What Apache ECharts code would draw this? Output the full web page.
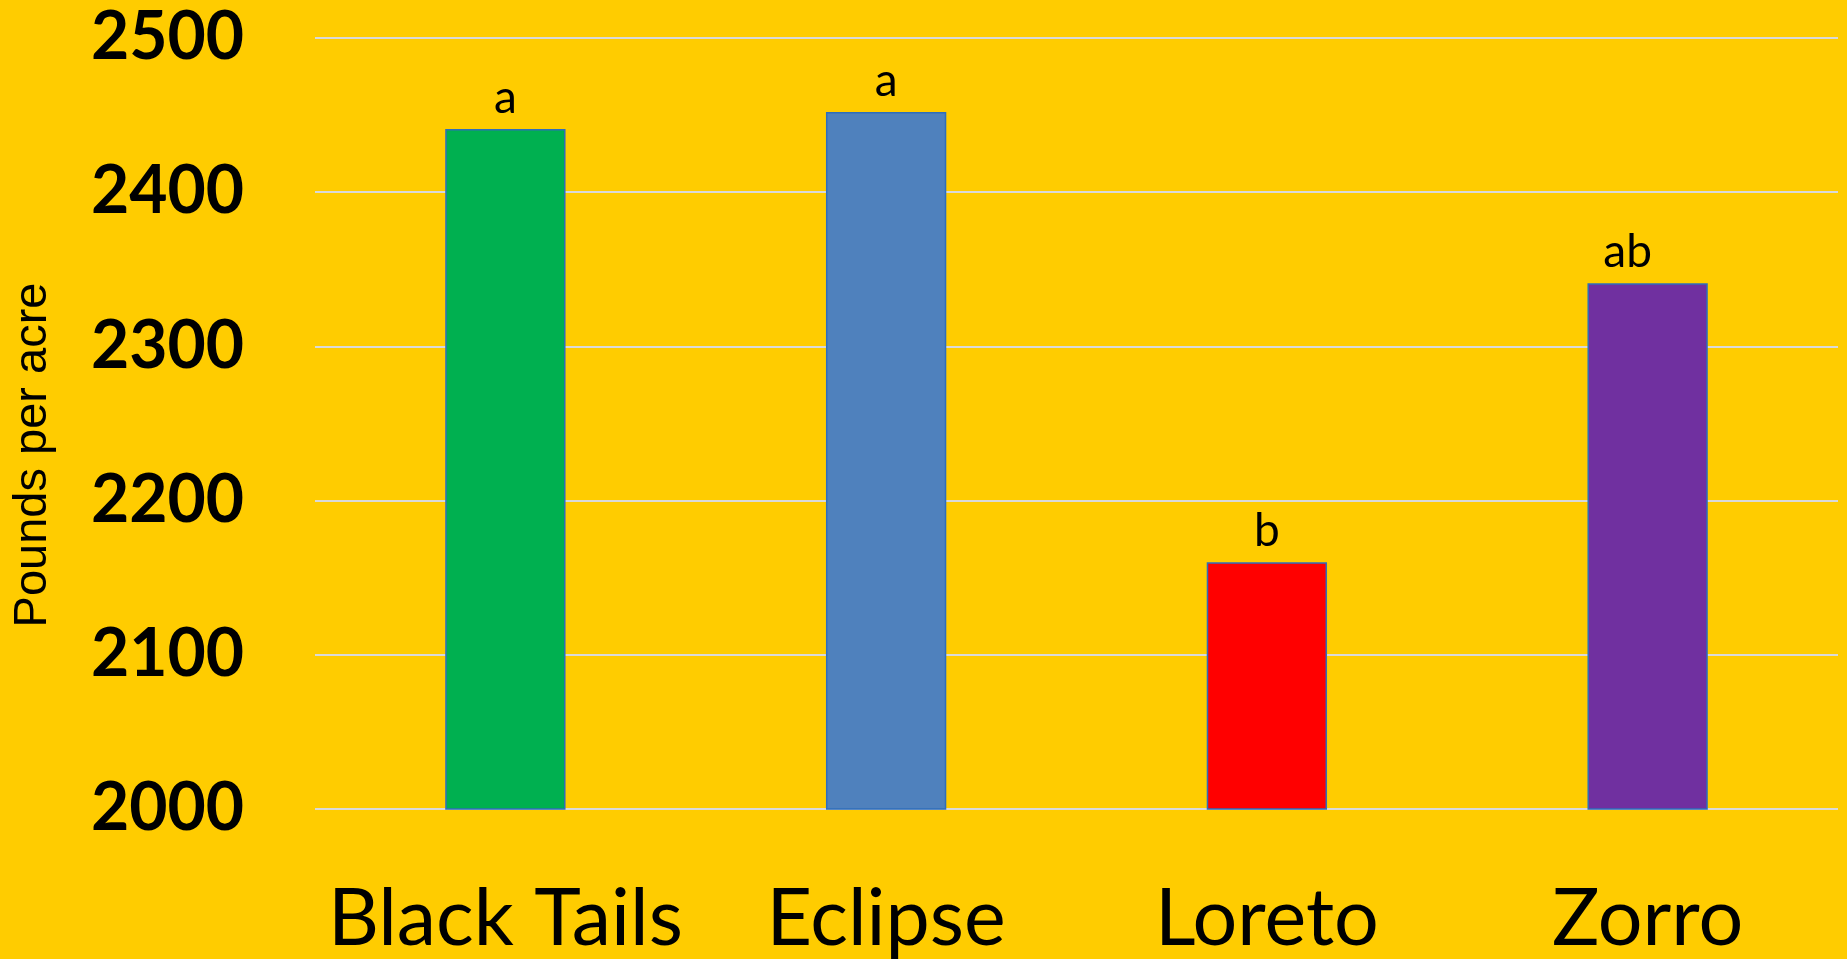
<!DOCTYPE html>
<html>
<head>
<meta charset="utf-8">
<script src="https://cdn.jsdelivr.net/npm/echarts@6/dist/echarts.min.js"></script>
<style>
html,body{margin:0;padding:0;background:#FFCC00;}
#chart{width:1847px;height:959px;}
</style>
</head>
<body>
<div id="chart"></div>
<script>
const categories = ['Black Tails', 'Eclipse', 'Loreto', 'Zorro'];
const values = [2441, 2452, 2160, 2341];
const letters = ['a', 'a', 'b', 'ab'];
const barColors = ['#00B050', '#4F81BD', '#FF0000', '#7030A0'];
const yTicks = [2000, 2100, 2200, 2300, 2400, 2500];
const yAxisTitle = 'Pounds per acre';

const chart = echarts.init(document.getElementById('chart'));
chart.setOption({
  backgroundColor: '#FFCC00',
  animation: false,
  grid: { left: 315, right: 9, top: 38, bottom: 150, containLabel: false },
  xAxis: {
    type: 'category',
    data: categories,
    axisLine: { show: false },
    axisTick: { show: false },
    axisLabel: {
      interval: 0,
      color: '#000',
      fontFamily: 'Lato',
      fontSize: 79,
      lineHeight: 79,
      margin: 71
    }
  },
  yAxis: {
    type: 'value',
    min: yTicks[0],
    max: yTicks[yTicks.length - 1],
    interval: 100,
    axisLine: { show: false },
    axisTick: { show: false },
    axisLabel: {
      color: '#000',
      fontFamily: 'Lato',
      fontWeight: 'bold',
      fontSize: 66,
      margin: 71,
      formatter: v => String(v)
    },
    splitLine: { lineStyle: { color: '#D9D9D9', width: 2 } }
  },
  graphic: [{
    type: 'text',
    x: 33,
    y: 455,
    rotation: Math.PI / 2,
    style: {
      text: yAxisTitle,
      fill: '#000',
      font: 'normal 47px "Liberation Sans", Arial, sans-serif',
      align: 'center',
      verticalAlign: 'middle'
    }
  }],
  series: [{
    type: 'bar',
    barWidth: '31.6%',
    data: values.map((v, i) => ({
      value: v,
      itemStyle: { color: barColors[i] },
      label: { formatter: letters[i], offset: i === 3 ? [-20, 0] : [0, 0] }
    })),
    itemStyle: { borderColor: '#2F6EBA', borderWidth: 1.5 },
    label: {
      show: true,
      position: 'top',
      distance: 8,
      color: '#000',
      fontFamily: 'Lato',
      fontSize: 46
    }
  }]
});
</script>
</body>
</html>
